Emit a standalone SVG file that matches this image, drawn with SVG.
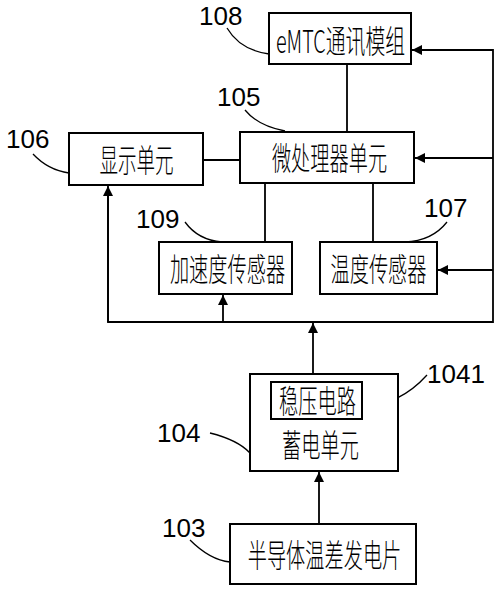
<svg xmlns="http://www.w3.org/2000/svg" width="500" height="591" viewBox="0 0 500 591">
<defs>
<marker id="ah" viewBox="0 0 10 10" refX="10" refY="5" markerWidth="10" markerHeight="10" markerUnits="userSpaceOnUse" orient="auto">
<path d="M0,0 L10,5 L0,10 Z" fill="#000"/>
</marker>
<style>
.box{fill:#fff;stroke:#000;stroke-width:2}
.ln{fill:none;stroke:#000;stroke-width:1.8}
.ld{fill:none;stroke:#000;stroke-width:1.3}
.cj{font-family:"Noto Sans CJK SC","Noto Sans",sans-serif;font-size:32px;font-weight:300;fill:#000;text-anchor:middle}
.num{font-family:"Liberation Sans",Arial,sans-serif;font-size:26px;fill:#000}
</style>
</defs>
<rect width="500" height="591" fill="#fff"/>
<g id="connectors">
<line class="ln" x1="347" y1="64" x2="347" y2="132"/>
<line class="ln" x1="203" y1="160" x2="240" y2="160"/>
<line class="ln" x1="265" y1="183" x2="265" y2="242"/>
<line class="ln" x1="373" y1="183" x2="373" y2="242"/>
<polyline class="ln" points="108,187 108,322 493,322 493,50 412,50" marker-end="url(#ah)"/>
<line class="ln" x1="108" y1="322" x2="108" y2="186" marker-end="url(#ah)"/>
<line class="ln" x1="493" y1="158" x2="415" y2="158" marker-end="url(#ah)"/>
<line class="ln" x1="493" y1="270" x2="438" y2="270" marker-end="url(#ah)"/>
<line class="ln" x1="223" y1="322" x2="223" y2="295" marker-end="url(#ah)"/>
<line class="ln" x1="313" y1="373" x2="313" y2="323" marker-end="url(#ah)"/>
<line class="ln" x1="319" y1="523" x2="319" y2="472" marker-end="url(#ah)"/>
</g>
<g id="leaders">
<path class="ld" d="M227,28 Q240,50 269,54"/>
<path class="ld" d="M245,110 Q258,126 285,131"/>
<path class="ld" d="M33,154 Q48,170 69,173"/>
<path class="ld" d="M185,222 Q198,240 222,242"/>
<path class="ld" d="M447,222 Q432,241 405,242"/>
<path class="ld" d="M427,375 Q400,405 362,407"/>
<path class="ld" d="M210,433 Q238,440 250,453"/>
<path class="ld" d="M190,540 Q210,560 230,562"/>
</g>
<g id="n108">
<rect class="box" x="269" y="13" width="142" height="51"/>
<text class="cj" transform="translate(340.5,53) scale(0.62,1)">eMTC通讯模组</text>
<text class="num" x="199" y="25">108</text>
</g>
<g id="n105">
<rect class="box" x="240" y="132" width="174" height="51"/>
<text class="cj" transform="translate(329.5,170) scale(0.6,1)">微处理器单元</text>
<text class="num" x="217" y="106">105</text>
</g>
<g id="n106">
<rect class="box" x="69" y="133" width="134" height="52"/>
<text class="cj" transform="translate(136.5,172) scale(0.58,1)">显示单元</text>
<text class="num" x="6" y="148">106</text>
</g>
<g id="n109">
<rect class="box" x="159" y="242" width="133" height="52"/>
<text class="cj" transform="translate(227.5,281) scale(0.6,1)">加速度传感器</text>
<text class="num" x="136" y="228">109</text>
</g>
<g id="n107">
<rect class="box" x="320" y="242" width="117" height="52"/>
<text class="cj" transform="translate(378.5,281) scale(0.6,1)">温度传感器</text>
<text class="num" x="424" y="217">107</text>
</g>
<g id="n104">
<rect class="box" x="250" y="374" width="148" height="97"/>
<text class="cj" transform="translate(320.5,457) scale(0.6,1)">蓄电单元</text>
<text class="num" x="157" y="442">104</text>
</g>
<g id="n1041">
<rect class="box" x="271" y="382" width="91" height="37"/>
<text class="cj" transform="translate(317.5,413) scale(0.6,1)">稳压电路</text>
<text class="num" x="427" y="383">1041</text>
</g>
<g id="n103">
<rect class="box" x="230" y="524" width="186" height="60"/>
<text class="cj" transform="translate(324.5,567) scale(0.6,1)">半导体温差发电片</text>
<text class="num" x="162" y="537">103</text>
</g>
</svg>
